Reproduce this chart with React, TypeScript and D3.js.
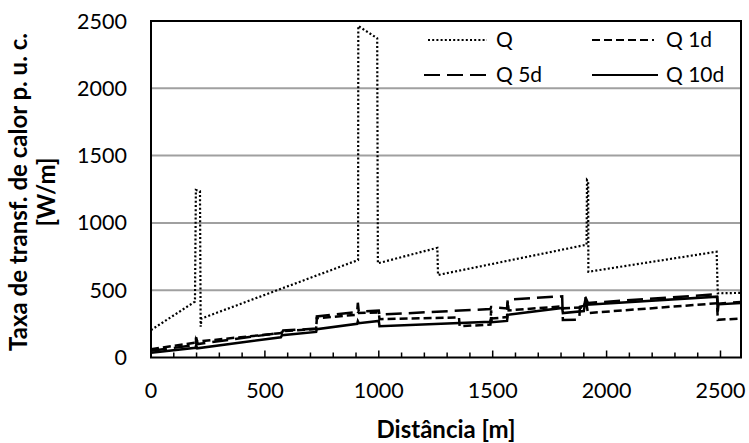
import React from 'react';
import * as d3 from 'd3';

const W = 749;
const H = 443;

const xTickValues = [0, 500, 1000, 1500, 2000, 2500];
const yTickValues = [0, 500, 1000, 1500, 2000, 2500];
const seriesNames = ['Q', 'Q 1d', 'Q 5d', 'Q 10d'];

// [distance m, heat rate W/m]
const seriesQ: [number, number][] = [
  [0, 204], [193, 415], [197, 1245], [215, 1235], [218, 229], [222, 290],
  [909, 724], [910, 2463], [993, 2372], [996, 700], [1257, 815], [1260, 613],
  [1912, 838], [1914, 1319], [1919, 1310], [1920, 637], [2483, 786], [2488, 477], [2590, 480],
];
const seriesQ1d: [number, number][] = [
  [0, 62], [195, 110], [198, 150], [203, 118], [575, 182], [580, 195], [725, 212],
  [728, 292], [905, 318], [908, 330], [1000, 335], [1003, 285], [1352, 298], [1355, 232],
  [1490, 245], [1493, 350], [1496, 290], [1563, 300], [1566, 415], [1570, 350],
  [1805, 380], [1808, 365], [1900, 372], [1908, 440], [1918, 330], [2485, 403],
  [2488, 280], [2590, 290],
];
const seriesQ5d: [number, number][] = [
  [0, 50], [195, 92], [198, 130], [205, 100], [575, 185], [580, 200], [725, 215],
  [728, 305], [905, 338], [908, 407], [912, 342], [1000, 348], [1003, 318], [1255, 340],
  [1490, 360], [1493, 375], [1563, 365], [1566, 430], [1805, 455], [1808, 279],
  [1880, 282], [1883, 377], [1903, 385], [1906, 452], [1918, 405], [2485, 470],
  [2488, 400], [2590, 412],
];
const seriesQ10d: [number, number][] = [
  [0, 35], [195, 72], [198, 90], [203, 68], [570, 150], [575, 165], [725, 190],
  [728, 210], [905, 250], [908, 270], [912, 255], [1000, 272], [1003, 232], [1490, 265],
  [1493, 300], [1496, 262], [1563, 272], [1566, 318], [1805, 368], [1808, 330],
  [1900, 345], [1908, 420], [1915, 392], [2485, 452], [2488, 340], [2491, 395], [2590, 405],
];

const seriesData = [seriesQ, seriesQ1d, seriesQ5d, seriesQ10d];
const dashes = ['2,2.2', '8,4', '16,7', ''];

const FONT = 'Lato, "Open Sans", sans-serif';

export default function App() {
  const left = 151, right = 741, top = 21, bottom = 357.5;
  const x = d3.scaleLinear().domain([0, 2590]).range([left, right]);
  const y = d3.scaleLinear().domain([0, 2500]).range([bottom, top]);
  const line = d3.line<[number, number]>().x(d => x(d[0])).y(d => y(d[1]));
  const minorTicks = d3.range(0, 2600, 100);

  const legend = [
    { name: seriesNames[0], dash: dashes[0], x1: 428, x2: 487, ty: 40, tx: 496 },
    { name: seriesNames[1], dash: dashes[1], x1: 592, x2: 654, ty: 40, tx: 666 },
    { name: seriesNames[2], dash: dashes[2], x1: 424, x2: 492, ty: 75, tx: 496 },
    { name: seriesNames[3], dash: dashes[3], x1: 592, x2: 658, ty: 75, tx: 666 },
  ];

  return (
    <div style={{ position: 'absolute', left: 0, top: 0 }}>
      <svg width={W} height={H} style={{ display: 'block', background: '#fff' }} fontFamily={FONT}>
        <defs>
          <clipPath id="plotclip">
            <rect x={left} y={top - 2} width={right - left} height={bottom - top + 4} />
          </clipPath>
        </defs>
        {yTickValues.filter(v => v > 0 && v < 2500).map(v => (
          <line key={v} x1={left} x2={right} y1={y(v)} y2={y(v)} stroke="#a0a0a0" strokeWidth={2} />
        ))}
        <g clipPath="url(#plotclip)">
          {seriesData.map((s, i) => (
            <path key={i} d={line(s) || ''} fill="none" stroke="#000"
              strokeWidth={i === 0 ? 2.2 : 2.5} strokeDasharray={dashes[i] || undefined}
              strokeLinecap="butt" strokeLinejoin="miter" />
          ))}
        </g>
        <rect x={left} y={top} width={right - left} height={bottom - top} fill="none" stroke="#000" strokeWidth={2} />
        {minorTicks.map(t => (
          <line key={t} x1={x(t)} x2={x(t)} y1={bottom} y2={bottom - (t % 500 === 0 ? 7 : 5)} stroke="#000" strokeWidth={1.5} />
        ))}
        {yTickValues.map(v => (
          <text key={v} x={127} y={y(v)} dy="0.35em" textAnchor="end" fontSize={21.5} fill="#000">{v}</text>
        ))}
        {xTickValues.map(v => (
          <text key={v} x={x(v)} y={398} textAnchor="middle" fontSize={21.5} fill="#000">{v}</text>
        ))}
        <text x={(left + right) / 2} y={438} textAnchor="middle" fontSize={24} fontWeight="bold" fill="#000">Distância [m]</text>
        <g transform={`translate(27,192) rotate(-90)`}>
          <text x={0} y={0} textAnchor="middle" fontSize={24} fontWeight="bold" fill="#000">Taxa de transf. de calor p. u. c.</text>
          <text x={0} y={28} textAnchor="middle" fontSize={24} fontWeight="bold" fill="#000">[W/m]</text>
        </g>
        {legend.map(l => (
          <g key={l.name}>
            <line x1={l.x1} x2={l.x2} y1={l.ty} y2={l.ty} stroke="#000" strokeWidth={2}
              strokeDasharray={l.dash || undefined} />
            <text x={l.tx} y={l.ty} dy="0.35em" fontSize={21} fill="#000">{l.name}</text>
          </g>
        ))}
      </svg>
    </div>
  );
}
